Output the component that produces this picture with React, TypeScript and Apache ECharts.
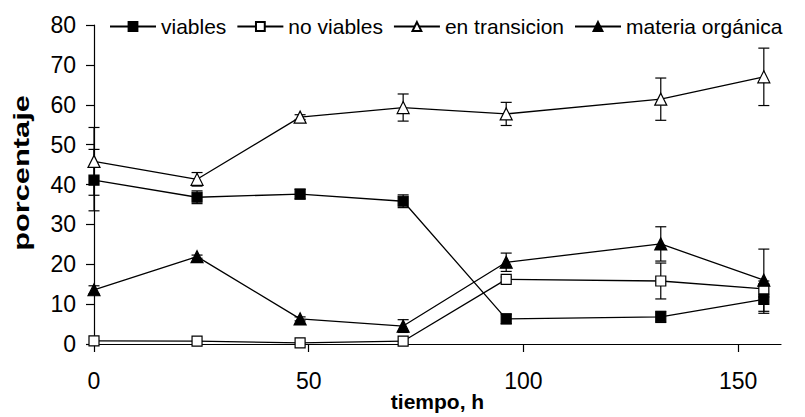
import React, { useEffect, useRef } from "react";
import * as echarts from "echarts";

// Sampling times (h)
const hours = [0, 24, 48, 72, 96, 132, 156];

// Percentages per cell category, with standard deviation
const viables = [41.1, 36.8, 37.6, 35.8, 6.3, 6.8, 11.2];
const viablesErr = [7.7, 1.6, 1.2, 1.6, 1.2, 1.4, 3.5];
const noViables = [0.8, 0.7, 0.3, 0.7, 16.2, 15.8, 13.8];
const noViablesErr = [0, 0, 0, 0, 0.6, 4.5, 2.0];
const transicion = [45.8, 41.3, 56.9, 59.3, 57.7, 61.4, 67.0];
const transicionErr = [8.5, 1.7, 0.6, 3.4, 2.9, 5.3, 7.2];
const materia = [13.6, 21.9, 6.3, 4.5, 20.5, 25.1, 16.0];
const materiaErr = [1.0, 0.4, 0.5, 1.6, 2.3, 4.3, 7.8];

const xTicks = [0, 50, 100, 150];
const legendNames = ["viables", "no viables", "en transicion", "materia orgánica"];

const FONT = "'Liberation Sans', Arial, sans-serif";

const pairs = (vals: number[]) => hours.map((h, i) => [h, vals[i]]);
const ranges = (vals: number[], errs: number[]) =>
  hours
    .map((h, i) => [h, vals[i] - errs[i], vals[i] + errs[i]])
    .filter((_d, i) => errs[i] > 0);

const errorBarSeries = (vals: number[], errs: number[]) => ({
  type: "custom",
  silent: true,
  z: 1,
  clip: false,
  encode: { x: 0, y: [1, 2] },
  data: ranges(vals, errs),
  renderItem: (_params: any, api: any) => {
    const x = api.value(0);
    const lo = api.coord([x, api.value(1)]);
    const hi = api.coord([x, api.value(2)]);
    const hw = 5.5;
    const st = { stroke: "#000", lineWidth: 1.2 };
    return {
      type: "group",
      children: [
        { type: "line", shape: { x1: lo[0], y1: lo[1], x2: hi[0], y2: hi[1] }, style: st },
        { type: "line", shape: { x1: lo[0] - hw, y1: lo[1], x2: lo[0] + hw, y2: lo[1] }, style: st },
        { type: "line", shape: { x1: hi[0] - hw, y1: hi[1], x2: hi[0] + hw, y2: hi[1] }, style: st },
      ],
    };
  },
});

const lineSeries = (name: string, vals: number[], symbol: string, filled: boolean, size: number) => ({
  name,
  type: "line",
  z: 3,
  data: pairs(vals),
  symbol,
  symbolSize: size,
  showAllSymbol: true,
  lineStyle: { color: "#000", width: 1.3 },
  itemStyle: { color: filled ? "#000" : "#fff", borderColor: "#000", borderWidth: 1.2 },
  emphasis: { disabled: true },
});

export default function App() {
  const ref = useRef<HTMLDivElement>(null);

  useEffect(() => {
    if (!ref.current) return;
    const chart = echarts.init(ref.current, undefined, { renderer: "svg" });
    chart.setOption({
      animation: false,
      backgroundColor: "#fff",
      textStyle: { fontFamily: FONT, color: "#000" },
      legend: {
        top: 11,
        left: 104,
        width: 700,
        itemWidth: 46,
        itemHeight: 11,
        itemGap: 10,
        textStyle: { fontSize: 21, color: "#000", fontFamily: FONT },
        data: legendNames,
      },
      grid: { left: 94, right: 24, top: 25, bottom: 73, containLabel: false, outerBoundsMode: "none" },
      // vertical axis title, elongated along its reading direction
      graphic: [
        {
          type: "text",
          x: 22,
          y: 173,
          rotation: Math.PI / 2,
          scaleX: 1.4,
          style: {
            text: "porcentaje",
            fontSize: 22,
            fontWeight: "bold",
            fontFamily: FONT,
            fill: "#000",
            align: "center",
            verticalAlign: "middle",
          },
        },
      ],
      xAxis: {
        type: "value",
        min: 0,
        max: 160,
        interval: 50,
        name: "tiempo, h",
        nameLocation: "middle",
        nameGap: 47,
        nameMoveOverlap: false,
        nameTextStyle: { fontSize: 21, fontWeight: "bold", color: "#000", fontFamily: FONT },
        splitLine: { show: false },
        axisLine: { lineStyle: { color: "#000", width: 1.2 } },
        axisTick: { length: 8, lineStyle: { color: "#000", width: 1.2 }, customValues: xTicks },
        axisLabel: { fontSize: 23, color: "#000", margin: 25, fontFamily: FONT, customValues: xTicks },
      },
      yAxis: {
        type: "value",
        min: 0,
        max: 80,
        interval: 10,
        splitLine: { show: false },
        axisLine: { show: true, lineStyle: { color: "#000", width: 1.2 } },
        axisTick: { show: true, length: 8, lineStyle: { color: "#000", width: 1.2 } },
        axisLabel: { fontSize: 23, color: "#000", margin: 18, fontFamily: FONT },
      },
      series: [
        errorBarSeries(viables, viablesErr),
        errorBarSeries(noViables, noViablesErr),
        errorBarSeries(transicion, transicionErr),
        errorBarSeries(materia, materiaErr),
        lineSeries(legendNames[0], viables, "rect", true, 10),
        lineSeries(legendNames[1], noViables, "rect", false, 10),
        lineSeries(legendNames[2], transicion, "triangle", false, 12),
        lineSeries(legendNames[3], materia, "triangle", true, 12),
      ],
    });
    return () => chart.dispose();
  }, []);

  return <div ref={ref} style={{ position: "fixed", left: 0, top: 0, width: 805, height: 417 }} />;
}
